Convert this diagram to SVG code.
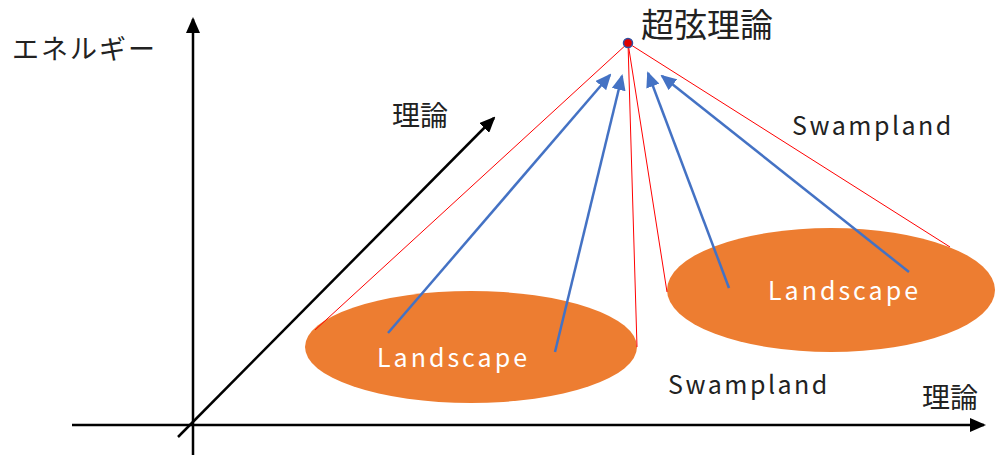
<svg xmlns="http://www.w3.org/2000/svg" width="995" height="456" viewBox="0 0 995 456">
<style>
.jp{font-family:"Noto Sans CJK JP","Noto Sans",sans-serif;fill:#222}
.lat{font-family:"Noto Sans CJK JP","Noto Sans",sans-serif;fill:#222;font-size:25px;letter-spacing:2.5px}
.land{font-family:"Noto Sans CJK JP","Noto Sans",sans-serif;fill:#fff;font-size:25px;letter-spacing:3px}
.ax{stroke:#000;stroke-width:2.5;fill:none}
.red{stroke:#f00;stroke-width:1;fill:none}
.blue{stroke:#4472c4;stroke-width:2.5;fill:none}
.ell{fill:#ed7d31}
</style>
<defs>
<marker id="ab" markerUnits="userSpaceOnUse" markerWidth="16" markerHeight="14" refX="14" refY="7" orient="auto"><path d="M0,0 L16,7 L0,14 Z" fill="#000"/></marker>
<marker id="ab2" markerUnits="userSpaceOnUse" markerWidth="16" markerHeight="14" refX="14" refY="7" orient="auto"><path d="M0,0 L16,7 L0,14 Z" fill="#4472c4"/></marker>
</defs>
<rect width="995" height="456" fill="#fff"/>
<g id="landscape-left"><ellipse class="ell" cx="471" cy="347" rx="166" ry="56"/><text class="land" x="377" y="367">Landscape</text></g>
<g id="landscape-right"><ellipse class="ell" cx="831" cy="290" rx="164" ry="62"/><text class="land" x="768" y="300">Landscape</text></g>
<g id="axes">
<line class="ax" x1="72" y1="425" x2="984" y2="425" marker-end="url(#ab)"/>
<line class="ax" x1="193" y1="455" x2="193" y2="19" marker-end="url(#ab)"/>
<line class="ax" x1="178" y1="437" x2="494" y2="118" marker-end="url(#ab)"/>
</g>
<g id="connectors">
<line class="red" x1="628" y1="43" x2="315" y2="330"/>
<line class="red" x1="628" y1="43" x2="637" y2="347"/>
<line class="red" x1="628" y1="43" x2="667" y2="292"/>
<line class="red" x1="628" y1="43" x2="950" y2="247"/>
<line class="blue" x1="388" y1="333" x2="610" y2="75" marker-end="url(#ab2)"/>
<line class="blue" x1="555" y1="352" x2="622" y2="76" marker-end="url(#ab2)"/>
<line class="blue" x1="729" y1="288" x2="648" y2="73" marker-end="url(#ab2)"/>
<line class="blue" x1="909" y1="272" x2="662" y2="76" marker-end="url(#ab2)"/>
</g>
<g id="string-theory"><circle cx="628" cy="43" r="4.5" fill="#e00000" stroke="#2f4fa0" stroke-width="1.5"/><text class="jp" x="641" y="37" font-size="33">超弦理論</text></g>
<g id="energy-label"><text class="jp" x="12" y="59" font-size="27" letter-spacing="2">エネルギー</text></g>
<g id="theory-diag-label"><text class="jp" x="392" y="126" font-size="28">理論</text></g>
<g id="theory-x-label"><text class="jp" x="922" y="408" font-size="28">理論</text></g>
<g id="swamp-upper"><text class="lat" x="792" y="135">Swampland</text></g>
<g id="swamp-lower"><text class="lat" x="668" y="394">Swampland</text></g>
</svg>
